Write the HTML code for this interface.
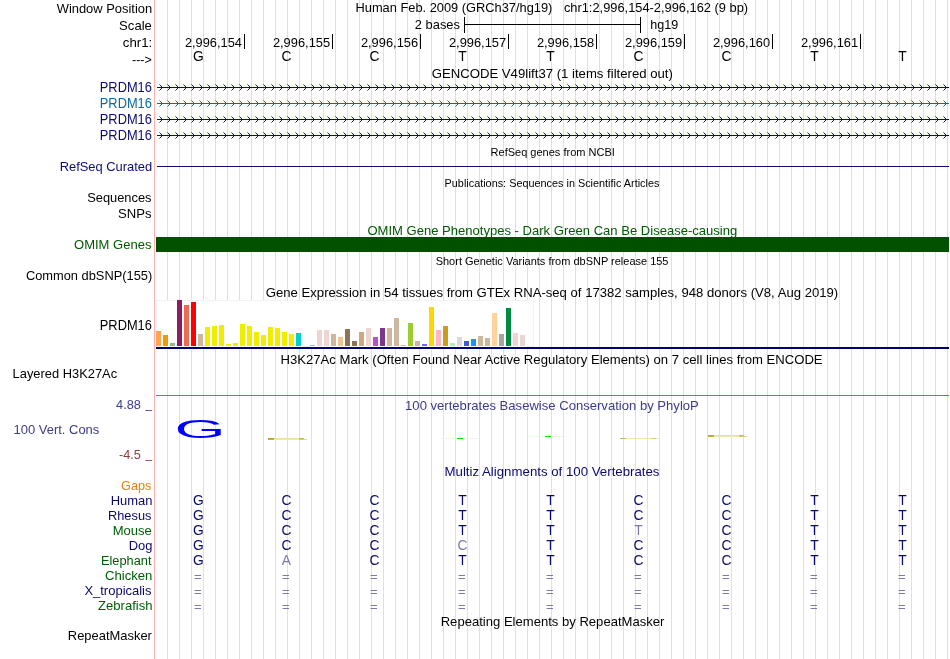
<!DOCTYPE html>
<html><head><meta charset="utf-8"><title>UCSC Genome Browser hg19 chr1:2,996,154-2,996,162</title>
<style>html,body{margin:0;padding:0;background:#fff}svg{display:block;will-change:transform}text{font-family:"Liberation Sans",sans-serif;font-size:13px;fill:#000}.c{font-size:13.8px}.s{font-size:11px}.d{font-size:13px}.r{text-anchor:end}.m{text-anchor:middle}.nv{fill:#0c0c78}.mb{fill:#066ba6}.gr{fill:#005a00}.cg{fill:#005c05}.cb{fill:#0a0a6e}.pp{fill:#3c3c8c}.pn{fill:#8c3c3c}.lt{fill:#7a7aac}.or{fill:#e6820a}</style></head><body>
<svg width="950" height="659" viewBox="0 0 950 659">
<defs>
<pattern id="cd" x="156" y="0" width="8" height="7" patternUnits="userSpaceOnUse"><g fill="#0c0c78" shape-rendering="crispEdges"><rect x="3" y="0" width="1" height="1" opacity=".5"/><rect x="4" y="1" width="1" height="1"/><rect x="5" y="2" width="1" height="1"/><rect x="5" y="4" width="1" height="1"/><rect x="4" y="5" width="1" height="1"/><rect x="3" y="6" width="1" height="1" opacity=".5"/></g></pattern>
<pattern id="cm" x="156" y="0" width="8" height="7" patternUnits="userSpaceOnUse"><g fill="#066ba6" shape-rendering="crispEdges"><rect x="3" y="0" width="1" height="1" opacity=".5"/><rect x="4" y="1" width="1" height="1"/><rect x="5" y="2" width="1" height="1"/><rect x="5" y="4" width="1" height="1"/><rect x="4" y="5" width="1" height="1"/><rect x="3" y="6" width="1" height="1" opacity=".5"/></g></pattern>
</defs>
<rect width="950" height="659" fill="#fff"/>
<g fill="#dcdcff" shape-rendering="crispEdges">
<rect x="167" y="0" width="1" height="659"/>
<rect x="179" y="0" width="1" height="659"/>
<rect x="191" y="0" width="1" height="659"/>
<rect x="203" y="0" width="1" height="659"/>
<rect x="215" y="0" width="1" height="659"/>
<rect x="227" y="0" width="1" height="659"/>
<rect x="239" y="0" width="1" height="659"/>
<rect x="251" y="0" width="1" height="659"/>
<rect x="263" y="0" width="1" height="659"/>
<rect x="275" y="0" width="1" height="659"/>
<rect x="287" y="0" width="1" height="659"/>
<rect x="299" y="0" width="1" height="659"/>
<rect x="311" y="0" width="1" height="659"/>
<rect x="323" y="0" width="1" height="659"/>
<rect x="335" y="0" width="1" height="659"/>
<rect x="347" y="0" width="1" height="659"/>
<rect x="359" y="0" width="1" height="659"/>
<rect x="371" y="0" width="1" height="659"/>
<rect x="383" y="0" width="1" height="659"/>
<rect x="395" y="0" width="1" height="659"/>
<rect x="407" y="0" width="1" height="659"/>
<rect x="419" y="0" width="1" height="659"/>
<rect x="431" y="0" width="1" height="659"/>
<rect x="443" y="0" width="1" height="659"/>
<rect x="455" y="0" width="1" height="659"/>
<rect x="467" y="0" width="1" height="659"/>
<rect x="479" y="0" width="1" height="659"/>
<rect x="491" y="0" width="1" height="659"/>
<rect x="503" y="0" width="1" height="659"/>
<rect x="515" y="0" width="1" height="659"/>
<rect x="527" y="0" width="1" height="659"/>
<rect x="539" y="0" width="1" height="659"/>
<rect x="551" y="0" width="1" height="659"/>
<rect x="563" y="0" width="1" height="659"/>
<rect x="575" y="0" width="1" height="659"/>
<rect x="587" y="0" width="1" height="659"/>
<rect x="599" y="0" width="1" height="659"/>
<rect x="611" y="0" width="1" height="659"/>
<rect x="623" y="0" width="1" height="659"/>
<rect x="635" y="0" width="1" height="659"/>
<rect x="647" y="0" width="1" height="659"/>
<rect x="659" y="0" width="1" height="659"/>
<rect x="671" y="0" width="1" height="659"/>
<rect x="683" y="0" width="1" height="659"/>
<rect x="695" y="0" width="1" height="659"/>
<rect x="707" y="0" width="1" height="659"/>
<rect x="719" y="0" width="1" height="659"/>
<rect x="731" y="0" width="1" height="659"/>
<rect x="743" y="0" width="1" height="659"/>
<rect x="755" y="0" width="1" height="659"/>
<rect x="767" y="0" width="1" height="659"/>
<rect x="779" y="0" width="1" height="659"/>
<rect x="791" y="0" width="1" height="659"/>
<rect x="803" y="0" width="1" height="659"/>
<rect x="815" y="0" width="1" height="659"/>
<rect x="827" y="0" width="1" height="659"/>
<rect x="839" y="0" width="1" height="659"/>
<rect x="851" y="0" width="1" height="659"/>
<rect x="863" y="0" width="1" height="659"/>
<rect x="875" y="0" width="1" height="659"/>
<rect x="887" y="0" width="1" height="659"/>
<rect x="899" y="0" width="1" height="659"/>
<rect x="911" y="0" width="1" height="659"/>
<rect x="923" y="0" width="1" height="659"/>
<rect x="935" y="0" width="1" height="659"/>
<rect x="947" y="0" width="1" height="659"/>
</g>
<rect x="154" y="0" width="1" height="659" fill="#ffb2b2" shape-rendering="crispEdges"/>
<text x="56.7" y="13" textLength="95.5" lengthAdjust="spacingAndGlyphs">Window Position</text>
<text x="355.5" y="12" textLength="196.9" lengthAdjust="spacingAndGlyphs">Human Feb. 2009 (GRCh37/hg19)</text>
<text x="563.9" y="12" textLength="184.2" lengthAdjust="spacingAndGlyphs">chr1:2,996,154-2,996,162 (9 bp)</text>
<text x="119.1" y="30" textLength="32.8" lengthAdjust="spacingAndGlyphs">Scale</text>
<text x="414.8" y="29" textLength="45.2" lengthAdjust="spacingAndGlyphs">2 bases</text>
<g fill="#000" shape-rendering="crispEdges"><rect x="464" y="17" width="1" height="16"/><rect x="640" y="17" width="1" height="16"/><rect x="464" y="24" width="177" height="1"/></g>
<text x="650.3" y="29" textLength="27.9" lengthAdjust="spacingAndGlyphs">hg19</text>
<text x="122.8" y="47" textLength="29.4" lengthAdjust="spacingAndGlyphs">chr1:</text>
<g fill="#000" shape-rendering="crispEdges">
<rect x="244" y="34" width="1" height="15"/>
<rect x="332" y="34" width="1" height="15"/>
<rect x="420" y="34" width="1" height="15"/>
<rect x="508" y="34" width="1" height="15"/>
<rect x="596" y="34" width="1" height="15"/>
<rect x="684" y="34" width="1" height="15"/>
<rect x="772" y="34" width="1" height="15"/>
<rect x="860" y="34" width="1" height="15"/>
</g>
<text class="d" x="184.9" y="47" textLength="57.0" lengthAdjust="spacingAndGlyphs">2,996,154</text>
<text class="d" x="272.9" y="47" textLength="57.2" lengthAdjust="spacingAndGlyphs">2,996,155</text>
<text class="d" x="360.9" y="47" textLength="57.2" lengthAdjust="spacingAndGlyphs">2,996,156</text>
<text class="d" x="448.9" y="47" textLength="57.3" lengthAdjust="spacingAndGlyphs">2,996,157</text>
<text class="d" x="536.9" y="47" textLength="57.2" lengthAdjust="spacingAndGlyphs">2,996,158</text>
<text class="d" x="624.9" y="47" textLength="57.3" lengthAdjust="spacingAndGlyphs">2,996,159</text>
<text class="d" x="712.9" y="47" textLength="57.2" lengthAdjust="spacingAndGlyphs">2,996,160</text>
<text class="d" x="800.9" y="47" textLength="57.3" lengthAdjust="spacingAndGlyphs">2,996,161</text>
<text x="132.0" y="64" textLength="19.7" lengthAdjust="spacingAndGlyphs">---&gt;</text>
<text class="m c" x="198.4" y="61">G</text>
<text class="m c" x="286.4" y="61">C</text>
<text class="m c" x="374.4" y="61">C</text>
<text class="m c" x="462.4" y="61">T</text>
<text class="m c" x="550.4" y="61">T</text>
<text class="m c" x="638.4" y="61">C</text>
<text class="m c" x="726.4" y="61">C</text>
<text class="m c" x="814.4" y="61">T</text>
<text class="m c" x="902.4" y="61">T</text>
<text x="431.7" y="78" textLength="241.2" lengthAdjust="spacingAndGlyphs">GENCODE V49lift37 (1 items filtered out)</text>
<text class="nv c" x="99.8" y="92" textLength="52.1" lengthAdjust="spacingAndGlyphs">PRDM16</text>
<rect x="157" y="87" width="792" height="1" fill="#0c0c78" shape-rendering="crispEdges"/>
<g transform="translate(0,84)"><rect x="156" y="0" width="792" height="7" fill="url(#cd)"/></g>
<text class="mb c" x="99.8" y="108" textLength="52.1" lengthAdjust="spacingAndGlyphs">PRDM16</text>
<rect x="157" y="103" width="792" height="1" fill="#066ba6" shape-rendering="crispEdges"/>
<g transform="translate(0,100)"><rect x="156" y="0" width="792" height="7" fill="url(#cm)"/></g>
<text class="nv c" x="99.8" y="124" textLength="52.1" lengthAdjust="spacingAndGlyphs">PRDM16</text>
<rect x="157" y="119" width="792" height="1" fill="#0c0c78" shape-rendering="crispEdges"/>
<g transform="translate(0,116)"><rect x="156" y="0" width="792" height="7" fill="url(#cd)"/></g>
<text class="nv c" x="99.8" y="140" textLength="52.1" lengthAdjust="spacingAndGlyphs">PRDM16</text>
<rect x="157" y="135" width="792" height="1" fill="#0c0c78" shape-rendering="crispEdges"/>
<g transform="translate(0,132)"><rect x="156" y="0" width="792" height="7" fill="url(#cd)"/></g>
<text class="s" x="490.6" y="156" textLength="124.2" lengthAdjust="spacingAndGlyphs">RefSeq genes from NCBI</text>
<text class="nv" x="59.7" y="171" textLength="92.5" lengthAdjust="spacingAndGlyphs">RefSeq Curated</text>
<rect x="157" y="166" width="792" height="1" fill="#0c0c78" shape-rendering="crispEdges"/>
<text class="s" x="444.6" y="187" textLength="214.8" lengthAdjust="spacingAndGlyphs">Publications: Sequences in Scientific Articles</text>
<text x="87.2" y="202" textLength="64.3" lengthAdjust="spacingAndGlyphs">Sequences</text>
<text x="118.0" y="218" textLength="33.5" lengthAdjust="spacingAndGlyphs">SNPs</text>
<text class="gr" x="367.4" y="235" textLength="369.9" lengthAdjust="spacingAndGlyphs">OMIM Gene Phenotypes - Dark Green Can Be Disease-causing</text>
<text class="gr" x="74.0" y="249" textLength="77.5" lengthAdjust="spacingAndGlyphs">OMIM Genes</text>
<rect x="156" y="237" width="793" height="15" fill="#005000" shape-rendering="crispEdges"/>
<text class="s" x="435.7" y="265" textLength="232.8" lengthAdjust="spacingAndGlyphs">Short Genetic Variants from dbSNP release 155</text>
<text x="25.9" y="280" textLength="126.3" lengthAdjust="spacingAndGlyphs">Common dbSNP(155)</text>
<text x="265.8" y="297" textLength="572.4" lengthAdjust="spacingAndGlyphs">Gene Expression in 54 tissues from GTEx RNA-seq of 17382 samples, 948 donors (V8, Aug 2019)</text>
<text class="c" x="99.8" y="330" textLength="52.1" lengthAdjust="spacingAndGlyphs">PRDM16</text>
<rect x="156" y="300" width="378" height="47" fill="#fff" shape-rendering="crispEdges"/>
<rect x="156.5" y="300.5" width="377" height="47" fill="none" stroke="#f2f2f4" stroke-width="1"/>
<g shape-rendering="crispEdges">
<rect x="156" y="331" width="5" height="15" fill="#FFA54F"/>
<rect x="163" y="335" width="5" height="11" fill="#EE9A00"/>
<rect x="170" y="343" width="5" height="3" fill="#8FBC8F"/>
<rect x="177" y="300" width="5" height="46" fill="#8B1C62"/>
<rect x="184" y="305" width="5" height="41" fill="#EE6A50"/>
<rect x="191" y="302" width="5" height="44" fill="#FF0000"/>
<rect x="198" y="334" width="5" height="12" fill="#CDB79E"/>
<rect x="205" y="327" width="5" height="19" fill="#EEEE00"/>
<rect x="212" y="326" width="5" height="20" fill="#EEEE00"/>
<rect x="219" y="325" width="5" height="21" fill="#EEEE00"/>
<rect x="226" y="344" width="5" height="2" fill="#EEEE00"/>
<rect x="233" y="343" width="5" height="3" fill="#EEEE00"/>
<rect x="240" y="324" width="5" height="22" fill="#EEEE00"/>
<rect x="247" y="326" width="5" height="20" fill="#EEEE00"/>
<rect x="254" y="332" width="5" height="14" fill="#EEEE00"/>
<rect x="261" y="335" width="5" height="11" fill="#EEEE00"/>
<rect x="268" y="327" width="5" height="19" fill="#EEEE00"/>
<rect x="275" y="328" width="5" height="18" fill="#EEEE00"/>
<rect x="282" y="332" width="5" height="14" fill="#EEEE00"/>
<rect x="289" y="334" width="5" height="12" fill="#EEEE00"/>
<rect x="296" y="333" width="5" height="13" fill="#00CDCD"/>
<rect x="303" y="346" width="7" height="1" fill="#efefef"/>
<rect x="310" y="345" width="5" height="1" fill="#9AC0CD"/>
<rect x="317" y="330" width="5" height="16" fill="#EED5D2"/>
<rect x="324" y="330" width="5" height="16" fill="#EED5D2"/>
<rect x="331" y="334" width="5" height="12" fill="#CDB79E"/>
<rect x="338" y="337" width="5" height="9" fill="#EEC591"/>
<rect x="345" y="329" width="5" height="17" fill="#8B7355"/>
<rect x="352" y="341" width="5" height="5" fill="#8B7355"/>
<rect x="359" y="332" width="5" height="14" fill="#CDAA7D"/>
<rect x="366" y="328" width="5" height="18" fill="#EED5D2"/>
<rect x="373" y="337" width="5" height="9" fill="#B452CD"/>
<rect x="380" y="328" width="5" height="18" fill="#7A378B"/>
<rect x="387" y="328" width="5" height="18" fill="#CDB79E"/>
<rect x="394" y="318" width="5" height="28" fill="#CDB79E"/>
<rect x="401" y="345" width="5" height="1" fill="#CDB79E"/>
<rect x="408" y="323" width="5" height="23" fill="#9ACD32"/>
<rect x="415" y="341" width="5" height="5" fill="#CDB79E"/>
<rect x="422" y="344" width="5" height="2" fill="#7A67EE"/>
<rect x="429" y="307" width="5" height="39" fill="#FFD700"/>
<rect x="436" y="330" width="5" height="16" fill="#FFB6C1"/>
<rect x="443" y="326" width="5" height="20" fill="#CD9B1D"/>
<rect x="450" y="343" width="5" height="3" fill="#B4EEB4"/>
<rect x="457" y="337" width="5" height="9" fill="#D9D9D9"/>
<rect x="464" y="341" width="5" height="5" fill="#3A5FCD"/>
<rect x="471" y="339" width="5" height="7" fill="#1E90FF"/>
<rect x="478" y="336" width="5" height="10" fill="#CDB79E"/>
<rect x="485" y="338" width="5" height="8" fill="#CDB79E"/>
<rect x="492" y="313" width="5" height="33" fill="#FFD39B"/>
<rect x="499" y="334" width="5" height="12" fill="#A6A6A6"/>
<rect x="506" y="308" width="5" height="38" fill="#008B45"/>
<rect x="513" y="333" width="5" height="13" fill="#EED5D2"/>
<rect x="520" y="335" width="5" height="11" fill="#EED5D2"/>
<rect x="527" y="346" width="7" height="1" fill="#efefef"/>
<rect x="156" y="347" width="793" height="2" fill="#00006e"/>
</g>
<text x="280.5" y="364" textLength="542.1" lengthAdjust="spacingAndGlyphs">H3K27Ac Mark (Often Found Near Active Regulatory Elements) on 7 cell lines from ENCODE</text>
<text x="12.6" y="378" textLength="104.5" lengthAdjust="spacingAndGlyphs">Layered H3K27Ac</text>
<rect x="156" y="395" width="793" height="1" fill="#ca1eca" fill-opacity=".85" shape-rendering="crispEdges"/>
<text class="pp" x="405.1" y="410" textLength="293.7" lengthAdjust="spacingAndGlyphs">100 vertebrates Basewise Conservation by PhyloP</text>
<text class="pp d" x="116.1" y="409" textLength="24.9" lengthAdjust="spacingAndGlyphs">4.88</text>
<text class="pp d" x="145.5" y="408" textLength="6.6" lengthAdjust="spacingAndGlyphs">_</text>
<text class="pp" x="13.5" y="434" textLength="85.8" lengthAdjust="spacingAndGlyphs">100 Vert. Cons</text>
<text class="pn d" x="119.1" y="459" textLength="21.8" lengthAdjust="spacingAndGlyphs">-4.5</text>
<text class="pn d" x="145.5" y="458" textLength="6.6" lengthAdjust="spacingAndGlyphs">_</text>
<text x="0" y="0" transform="translate(174.6,438) scale(2.63,1)" style="font-size:25px;fill:#0000ff">G</text>
<g shape-rendering="crispEdges">
<rect x="268" y="438" width="6" height="1" fill="#b2aa24"/><rect x="274" y="438" width="25" height="1" fill="#e4e4a8"/><rect x="299" y="438" width="5" height="1" fill="#c4bf58"/>
<rect x="268" y="439" width="6" height="1" fill="#bdb640"/><rect x="274" y="439" width="25" height="1" fill="#e9e9b8"/><rect x="299" y="439" width="4" height="1" fill="#d0cc70"/><rect x="303" y="439" width="4" height="1" fill="#dcd890"/>
<rect x="441" y="438" width="37" height="1" fill="#e6fae6"/><rect x="457" y="438" width="6" height="1" fill="#00f000"/>
<rect x="529" y="436" width="37" height="1" fill="#e6fae6"/><rect x="545" y="436" width="6" height="1" fill="#00f000"/>
<rect x="620" y="438" width="6" height="1" fill="#c1bb50"/><rect x="626" y="438" width="25" height="1" fill="#e9e9b9"/><rect x="651" y="438" width="5" height="1" fill="#d0cc79"/>
<rect x="656" y="438" width="3" height="1" fill="#e9e9b9"/>
<rect x="708" y="435" width="6" height="1" fill="#b2aa24"/><rect x="714" y="435" width="25" height="1" fill="#e4e4a8"/><rect x="739" y="435" width="5" height="1" fill="#c4bf58"/>
<rect x="708" y="436" width="6" height="1" fill="#bdb640"/><rect x="714" y="436" width="25" height="1" fill="#e9e9b8"/><rect x="739" y="436" width="4" height="1" fill="#d0cc70"/><rect x="743" y="436" width="4" height="1" fill="#dcd890"/>
</g>
<text class="cb" x="444.5" y="476" textLength="215.0" lengthAdjust="spacingAndGlyphs">Multiz Alignments of 100 Vertebrates</text>
<text class="or" x="121.1" y="490" textLength="30.3" lengthAdjust="spacingAndGlyphs">Gaps</text>
<text class="cb" x="110.7" y="505" textLength="41.7" lengthAdjust="spacingAndGlyphs">Human</text>
<text class="m cb c" x="198.4" y="505">G</text>
<text class="m cb c" x="286.4" y="505">C</text>
<text class="m cb c" x="374.4" y="505">C</text>
<text class="m cb c" x="462.4" y="505">T</text>
<text class="m cb c" x="550.4" y="505">T</text>
<text class="m cb c" x="638.4" y="505">C</text>
<text class="m cb c" x="726.4" y="505">C</text>
<text class="m cb c" x="814.4" y="505">T</text>
<text class="m cb c" x="902.4" y="505">T</text>
<text class="cb" x="108.0" y="520" textLength="43.4" lengthAdjust="spacingAndGlyphs">Rhesus</text>
<text class="m cb c" x="198.4" y="520">G</text>
<text class="m cb c" x="286.4" y="520">C</text>
<text class="m cb c" x="374.4" y="520">C</text>
<text class="m cb c" x="462.4" y="520">T</text>
<text class="m cb c" x="550.4" y="520">T</text>
<text class="m cb c" x="638.4" y="520">C</text>
<text class="m cb c" x="726.4" y="520">C</text>
<text class="m cb c" x="814.4" y="520">T</text>
<text class="m cb c" x="902.4" y="520">T</text>
<text class="cg" x="112.7" y="535" textLength="39.2" lengthAdjust="spacingAndGlyphs">Mouse</text>
<text class="m cb c" x="198.4" y="535">G</text>
<text class="m cb c" x="286.4" y="535">C</text>
<text class="m cb c" x="374.4" y="535">C</text>
<text class="m cb c" x="462.4" y="535">T</text>
<text class="m cb c" x="550.4" y="535">T</text>
<text class="m lt c" x="638.4" y="535">T</text>
<text class="m cb c" x="726.4" y="535">C</text>
<text class="m cb c" x="814.4" y="535">T</text>
<text class="m cb c" x="902.4" y="535">T</text>
<text class="cb" x="128.7" y="550" textLength="23.7" lengthAdjust="spacingAndGlyphs">Dog</text>
<text class="m cb c" x="198.4" y="550">G</text>
<text class="m cb c" x="286.4" y="550">C</text>
<text class="m cb c" x="374.4" y="550">C</text>
<text class="m lt c" x="462.4" y="550">C</text>
<text class="m cb c" x="550.4" y="550">T</text>
<text class="m cb c" x="638.4" y="550">C</text>
<text class="m cb c" x="726.4" y="550">C</text>
<text class="m cb c" x="814.4" y="550">T</text>
<text class="m cb c" x="902.4" y="550">T</text>
<text class="cg" x="100.9" y="565" textLength="50.6" lengthAdjust="spacingAndGlyphs">Elephant</text>
<text class="m cb c" x="198.4" y="565">G</text>
<text class="m lt c" x="286.4" y="565">A</text>
<text class="m cb c" x="374.4" y="565">C</text>
<text class="m cb c" x="462.4" y="565">T</text>
<text class="m cb c" x="550.4" y="565">T</text>
<text class="m cb c" x="638.4" y="565">C</text>
<text class="m cb c" x="726.4" y="565">C</text>
<text class="m cb c" x="814.4" y="565">T</text>
<text class="m cb c" x="902.4" y="565">T</text>
<text class="cg" x="105.0" y="580" textLength="47.4" lengthAdjust="spacingAndGlyphs">Chicken</text>
<text class="m lt" x="197.8" y="581">=</text>
<text class="m lt" x="285.8" y="581">=</text>
<text class="m lt" x="373.8" y="581">=</text>
<text class="m lt" x="461.8" y="581">=</text>
<text class="m lt" x="549.8" y="581">=</text>
<text class="m lt" x="637.8" y="581">=</text>
<text class="m lt" x="725.8" y="581">=</text>
<text class="m lt" x="813.8" y="581">=</text>
<text class="m lt" x="901.8" y="581">=</text>
<text class="cb" x="84.4" y="595" textLength="67.1" lengthAdjust="spacingAndGlyphs">X_tropicalis</text>
<text class="m lt" x="197.8" y="596">=</text>
<text class="m lt" x="285.8" y="596">=</text>
<text class="m lt" x="373.8" y="596">=</text>
<text class="m lt" x="461.8" y="596">=</text>
<text class="m lt" x="549.8" y="596">=</text>
<text class="m lt" x="637.8" y="596">=</text>
<text class="m lt" x="725.8" y="596">=</text>
<text class="m lt" x="813.8" y="596">=</text>
<text class="m lt" x="901.8" y="596">=</text>
<text class="cg" x="98.0" y="610" textLength="54.5" lengthAdjust="spacingAndGlyphs">Zebrafish</text>
<text class="m lt" x="197.8" y="611">=</text>
<text class="m lt" x="285.8" y="611">=</text>
<text class="m lt" x="373.8" y="611">=</text>
<text class="m lt" x="461.8" y="611">=</text>
<text class="m lt" x="549.8" y="611">=</text>
<text class="m lt" x="637.8" y="611">=</text>
<text class="m lt" x="725.8" y="611">=</text>
<text class="m lt" x="813.8" y="611">=</text>
<text class="m lt" x="901.8" y="611">=</text>
<text x="440.7" y="626" textLength="223.7" lengthAdjust="spacingAndGlyphs">Repeating Elements by RepeatMasker</text>
<text x="67.8" y="640" textLength="84.1" lengthAdjust="spacingAndGlyphs">RepeatMasker</text>
</svg></body></html>
